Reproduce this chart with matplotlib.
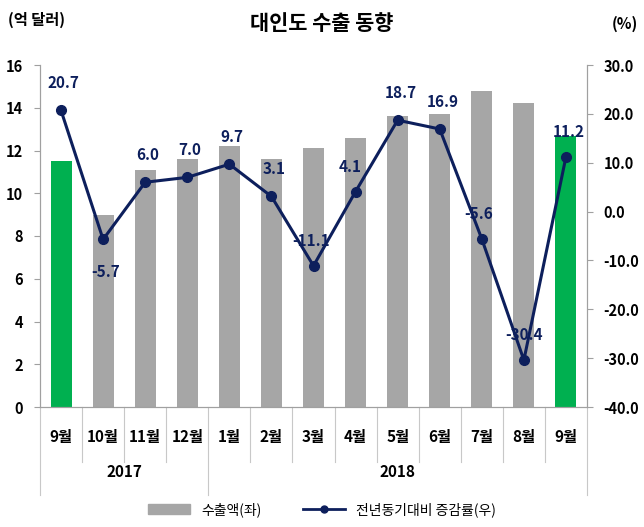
import matplotlib.pyplot as plt
from matplotlib.patches import Patch
from matplotlib.lines import Line2D

plt.rcParams['font.family'] = ['Noto Sans CJK KR', 'DejaVu Sans']

months = ['9월', '10월', '11월', '12월', '1월', '2월', '3월', '4월', '5월', '6월', '7월', '8월', '9월']
exports = [11.5, 9.0, 11.1, 11.6, 12.2, 11.6, 12.1, 12.6, 13.6, 13.7, 14.8, 14.2, 12.7]
growth = [20.7, -5.7, 6.0, 7.0, 9.7, 3.1, -11.1, 4.1, 18.7, 16.9, -5.6, -30.4, 11.2]
highlight = [0, 12]
years = ['2017', '2018']
year_spans = [(0, 3), (4, 12)]

gray = '#A6A6A6'
green = '#00B050'
navy = '#0D1F5C'
axis_col = '#A0A0A0'

fig = plt.figure(figsize=(6.44, 5.27), dpi=100)
ax = fig.add_axes([40 / 644, 120 / 527, 547 / 644, 342 / 527])
ax2 = ax.twinx()

x = list(range(len(months)))
colors = [green if i in highlight else gray for i in x]
ax.bar(x, exports, width=0.5, color=colors, zorder=1)
ax.set_xlim(-0.5, len(months) - 0.5)
ax.set_ylim(0, 16)
ax.set_yticks(range(0, 17, 2))
ax.set_xticks([])

ax2.plot(x, growth, color=navy, lw=2.2, marker='o', ms=7, zorder=3)
ax2.set_ylim(-40, 30)
ax2.set_yticks(range(-40, 31, 10))
ax2.set_yticklabels(['%.1f' % v for v in range(-40, 31, 10)])

for a in (ax, ax2):
    for s in a.spines.values():
        s.set_color(axis_col)
    a.spines['top'].set_visible(False)
    a.tick_params(colors=axis_col, labelcolor='black', labelsize=10.5, length=4)
    for lab in a.get_yticklabels():
        lab.set_fontweight('bold')
ax.tick_params(axis='y', pad=8)
ax2.tick_params(axis='y', pad=8)

# data labels
offsets = {1: (2, -18), 6: (-2, 12), 7: (-4, 12), 10: (-2, 12), 11: (0, 12), 12: (2, 12)}
for i, v in enumerate(growth):
    dx, dy = offsets.get(i, (2, 14))
    ax2.annotate('%.1f' % v, (i, v), xytext=(dx, dy), textcoords='offset points',
                 ha='center', va='bottom' if dy > 0 else 'top',
                 fontsize=11, fontweight='bold', color=navy, zorder=4)

# category separators and labels
tr = ax.get_xaxis_transform()
bounds = [s for s, e in year_spans] + [year_spans[-1][1] + 1]
for i in range(len(months) + 1):
    low = -0.257 if i in bounds else -0.16
    ax.plot([i - 0.5, i - 0.5], [0, low], transform=tr, color='#C8C8C8', lw=0.8, clip_on=False)
for i, m in enumerate(months):
    ax.text(i, -0.087, m, transform=tr, ha='center', va='center', fontsize=11, fontweight='bold')
for yr, (s, e) in zip(years, year_spans):
    ax.text((s + e) / 2, -0.19, yr, transform=tr, ha='center', va='center', fontsize=11, fontweight='bold')

fig.text(0.5, 0.955, '대인도 수출 동향', ha='center', va='center', fontsize=15, fontweight='bold')
fig.text(0.012, 0.962, '(억 달러)', ha='left', va='center', fontsize=11, fontweight='bold')
fig.text(0.99, 0.955, '(%)', ha='right', va='center', fontsize=11, fontweight='bold')

handles = [Patch(color=gray), Line2D([], [], color=navy, lw=2, marker='o', ms=5)]
fig.legend(handles, ['수출액(좌)', '전년동기대비 증감률(우)'], loc='center', bbox_to_anchor=(0.5, 0.033),
           ncol=2, frameon=False, fontsize=10, handlelength=3, columnspacing=3)

fig.savefig('out.png')
